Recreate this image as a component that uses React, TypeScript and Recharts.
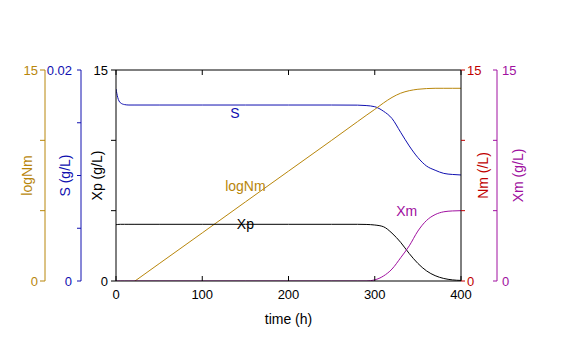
import { LineChart, Line, XAxis, YAxis, ReferenceDot } from "recharts";

// time points (h)
const time = [0, 2, 5, 10, 15, 22, 50, 100, 150, 200, 250, 280, 290, 300, 310, 320, 330, 340, 350, 360, 370, 380, 390, 400];
// substrate S (g/L)
const sValues = [0.0182, 0.0174, 0.0169, 0.01672, 0.01668, 0.01668, 0.01668, 0.01668, 0.01668, 0.01668, 0.01668, 0.01667, 0.01663, 0.01652, 0.0161, 0.0154, 0.0141, 0.0128, 0.0117, 0.0109, 0.0105, 0.0102, 0.0101, 0.01005];
// log of Nm
const logNmValues = [-0.97, -0.88, -0.75, -0.53, -0.31, 0, 1.23, 3.42, 5.62, 7.81, 10.0, 11.33, 11.77, 12.2, 12.65, 13.05, 13.35, 13.53, 13.63, 13.68, 13.7, 13.7, 13.7, 13.7];
// Xp (g/L)
const xpValues = [4.0, 4.02, 4.03, 4.03, 4.03, 4.03, 4.03, 4.03, 4.03, 4.03, 4.03, 4.03, 4.02, 3.98, 3.86, 3.4, 2.75, 1.95, 1.25, 0.72, 0.38, 0.18, 0.08, 0.04];
// Xm (g/L)
const xmValues = [0, 0, 0, 0, 0, 0, 0, 0, 0, 0, 0, 0, 0, 0.08, 0.35, 0.85, 1.65, 2.5, 3.55, 4.3, 4.72, 4.92, 4.98, 5.0];

const xTicks = [0, 100, 200, 300, 400];
const fifteenTicks = [0, 5, 10, 15];
const sTicks = [0, 0.005, 0.01, 0.015, 0.02];

const data = time.map((t, i) => ({
  t,
  S: sValues[i],
  logNm: logNmValues[i],
  Xp: xpValues[i],
  Xm: xmValues[i],
}));

const OLIVE = "#B8860B";
const BLUE = "#1010B0";
const RED = "#C00000";
const PURPLE = "#A010A0";
const FONT = "'Liberation Sans', Arial, sans-serif";

const endsOnly = (v: number) => (v === 0 || v === 15 ? String(v) : "");

// axis ids sort so that the first one sits next to the plot
const XP = "a_xp";
const S = "b_s";
const LOGNM = "c_lognm";

export default function App() {
  return (
    <div style={{ position: "absolute", left: 0, top: 0, background: "#fff", fontFamily: FONT }}>
      <LineChart
        width={576}
        height={351}
        data={data}
        margin={{ top: 69, right: 39, bottom: 25, left: 0 }}
      >
        <XAxis
          dataKey="t"
          type="number"
          domain={[0, 400]}
          ticks={xTicks}
          allowDataOverflow
          height={45}
          stroke="#000"
          tickSize={-5}
          tickMargin={14}
          tick={{ fill: "#000", fontSize: 13, fontFamily: FONT }}
          label={{ value: "time (h)", position: "center", dy: 16, fill: "#000", fontSize: 14, fontFamily: FONT }}
        />
        <XAxis
          xAxisId="top"
          dataKey="t"
          type="number"
          orientation="top"
          domain={[0, 400]}
          ticks={xTicks}
          height={1}
          stroke="#000"
          tickSize={-5}
          tickFormatter={() => ""}
        />
        <YAxis
          yAxisId={XP}
          domain={[0, 15]}
          ticks={fifteenTicks}
          allowDataOverflow
          width={35}
          stroke="#000"
          tickSize={5}
          tickMargin={3}
          tickFormatter={endsOnly}
          tick={{ fill: "#000", fontSize: 13, fontFamily: FONT }}
          label={{ value: "Xp (g/L)", angle: -90, position: "center", dx: -1, fill: "#000", fontSize: 14, fontFamily: FONT }}
        />
        <YAxis
          yAxisId={S}
          domain={[0, 0.02]}
          ticks={sTicks}
          allowDataOverflow
          width={36}
          stroke={BLUE}
          tickSize={4}
          tickMargin={5}
          tickFormatter={(v: number) => (v === 0 ? "0" : v === 0.02 ? "0.02" : "")}
          tick={{ fill: BLUE, fontSize: 13, fontFamily: FONT }}
          label={{ value: "S (g/L)", angle: -90, position: "center", dx: 2, fill: BLUE, fontSize: 14, fontFamily: FONT }}
        />
        <YAxis
          yAxisId={LOGNM}
          domain={[0, 15]}
          ticks={fifteenTicks}
          allowDataOverflow
          width={45}
          stroke={OLIVE}
          tickSize={5}
          tickMargin={2}
          tickFormatter={endsOnly}
          tick={{ fill: OLIVE, fontSize: 13, fontFamily: FONT }}
          label={{ value: "logNm", angle: -90, position: "center", dx: 5, fill: OLIVE, fontSize: 14, fontFamily: FONT }}
        />
        <YAxis
          yAxisId="nm"
          orientation="right"
          domain={[0, 15]}
          ticks={fifteenTicks}
          allowDataOverflow
          width={36}
          axisLine={{ stroke: "#000" }}
          tickLine={{ stroke: RED }}
          tickSize={4}
          tickMargin={2}
          tickFormatter={endsOnly}
          tick={{ fill: RED, fontSize: 13, fontFamily: FONT }}
          label={{ value: "Nm (/L)", angle: -90, position: "center", dx: 4, fill: RED, fontSize: 14, fontFamily: FONT }}
        />
        <YAxis
          yAxisId="xm"
          orientation="right"
          domain={[0, 15]}
          ticks={fifteenTicks}
          allowDataOverflow
          width={40}
          stroke={PURPLE}
          tickSize={-4}
          tickMargin={9}
          tickFormatter={endsOnly}
          tick={{ fill: PURPLE, fontSize: 13, fontFamily: FONT }}
          label={{ value: "Xm (g/L)", angle: -90, position: "center", dx: 1, fill: PURPLE, fontSize: 14, fontFamily: FONT }}
        />

        <Line yAxisId={S} dataKey="S" type="monotone" stroke={BLUE} strokeWidth={1} dot={false} isAnimationActive={false} />
        <Line yAxisId={LOGNM} dataKey="logNm" type="monotone" stroke={OLIVE} strokeWidth={1} dot={false} isAnimationActive={false} />
        <Line yAxisId={XP} dataKey="Xp" type="monotone" stroke="#000" strokeWidth={1} dot={false} isAnimationActive={false} />
        <Line yAxisId="xm" dataKey="Xm" type="monotone" stroke={PURPLE} strokeWidth={1} dot={false} isAnimationActive={false} />

        <ReferenceDot yAxisId={S} x={138} y={0.0159} r={0} fill="none" stroke="none"
          label={{ value: "S", position: "center", fill: BLUE, fontSize: 14, fontFamily: FONT }} />
        <ReferenceDot yAxisId={LOGNM} x={150} y={6.75} r={0} fill="none" stroke="none"
          label={{ value: "logNm", position: "center", fill: OLIVE, fontSize: 14, fontFamily: FONT }} />
        <ReferenceDot yAxisId={XP} x={150} y={4.05} r={0} fill="none" stroke="none"
          label={{ value: "Xp", position: "center", fill: "#000", fontSize: 14, fontFamily: FONT }} />
        <ReferenceDot yAxisId="xm" x={337} y={4.98} r={0} fill="none" stroke="none"
          label={{ value: "Xm", position: "center", fill: PURPLE, fontSize: 14, fontFamily: FONT }} />
      </LineChart>
    </div>
  );
}
